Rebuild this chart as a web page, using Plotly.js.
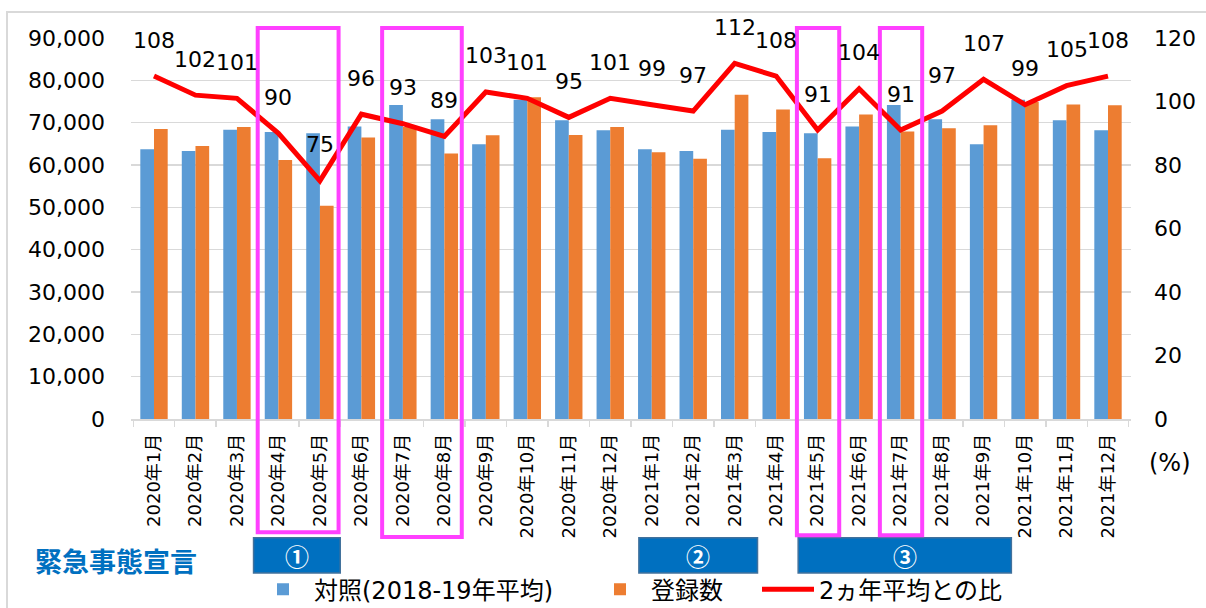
<!DOCTYPE html>
<html>
<head>
<meta charset="utf-8">
<script src="https://cdn.plot.ly/plotly-3.0.1.min.js"></script>
<style>
html,body{margin:0;padding:0;background:#fff;}
#chart{width:1206px;height:608px;}
</style>
</head>
<body>
<div id="chart"></div>
<script>
// ---- data ----
const months = [
  "2020年1月","2020年2月","2020年3月","2020年4月","2020年5月","2020年6月",
  "2020年7月","2020年8月","2020年9月","2020年10月","2020年11月","2020年12月",
  "2021年1月","2021年2月","2021年3月","2021年4月","2021年5月","2021年6月",
  "2021年7月","2021年8月","2021年9月","2021年10月","2021年11月","2021年12月"
];
// 対照(2018-19年平均)
const control = [
  63700, 63300, 68300, 67800, 67500, 69100, 74200, 70800, 64900, 75400, 70600, 68200,
  63700, 63300, 68300, 67800, 67500, 69100, 74200, 70800, 64900, 75400, 70600, 68200
];
// 登録数
const registered = [
  68500, 64500, 69000, 61200, 50400, 66500, 69000, 62700, 67000, 76000, 67100, 69000,
  63000, 61500, 76600, 73100, 61600, 71900, 67900, 68700, 69400, 74900, 74300, 74100
];
// 2ヵ年平均との比 (%)
const ratio = [
  108, 102, 101, 90, 75, 96, 93, 89, 103, 101, 95, 101,
  99, 97, 112, 108, 91, 104, 91, 97, 107, 99, 105, 108
];
const seriesNames = ["対照(2018-19年平均)", "登録数", "2ヵ年平均との比"];
const leftTicks = [0, 10000, 20000, 30000, 40000, 50000, 60000, 70000, 80000, 90000];
const rightTicks = [0, 20, 40, 60, 80, 100, 120];
// 緊急事態宣言 periods (category index span) and highlighted months
const declarations = [
  {label: "①", from: 2.4, to: 4.49},
  {label: "②", from: 11.69, to: 14.55},
  {label: "③", from: 15.53, to: 20.67}
];
const highlights = [
  {from: 2.5, to: 4.45, bottom: -0.297},
  {from: 5.5, to: 7.42, bottom: -0.31},
  {from: 15.5, to: 16.52, bottom: -0.305},
  {from: 17.5, to: 18.52, bottom: -0.305}
];

// ---- styles ----
const FONT = "DejaVu Sans, Noto Sans CJK JP, sans-serif";
const CJK = "Noto Sans CJK JP, sans-serif";
const BLUE = "#5B9BD5", ORANGE = "#ED7D31", RED = "#FF0000", GRID = "#D9D9D9";

const traces = [
  {type: "bar", name: seriesNames[0], x: months, y: control, marker: {color: BLUE}, legend: "legend"},
  {type: "bar", name: seriesNames[1], x: months, y: registered, marker: {color: ORANGE}, legend: "legend2"},
  {type: "scatter", mode: "lines", name: seriesNames[2], x: months, y: ratio, yaxis: "y2",
   line: {color: RED, width: 5}, legend: "legend3"}
];

const annotations = ratio.map((v, i) => ({
  x: months[i], y: v, xref: "x", yref: "y2", text: String(v), showarrow: false,
  xanchor: "center", yanchor: "middle",
  yshift: 36, font: {size: 22, color: "#000", family: FONT}
}));
annotations.push({
  xref: "paper", yref: "paper", x: -0.015, y: -0.372, xanchor: "center", yanchor: "middle",
  text: "<b>緊急事態宣言</b>",
  showarrow: false, font: {size: 27, color: "#0070C0", family: CJK}
});
annotations.push({
  xref: "paper", yref: "paper", x: 1.039, y: -0.1155, xanchor: "center", yanchor: "middle",
  text: "(%)",
  showarrow: false, font: {size: 24, color: "#000", family: FONT}
});
declarations.forEach(d => annotations.push({
  xref: "x", yref: "paper", x: (d.from + d.to) / 2, y: -0.358, xanchor: "center", yanchor: "middle",
  text: "<b>" + d.label + "</b>",
  showarrow: false, font: {size: 24, color: "#fff", family: CJK}
}));

const shapes = [];
shapes.push({type: "rect", xref: "paper", yref: "paper", x0: -0.124, x1: 1.1, y0: -0.55, y1: 1.068,
  line: {color: GRID, width: 2}, fillcolor: "rgba(0,0,0,0)", layer: "below"});
declarations.forEach(d => shapes.push({
  type: "rect", xref: "x", yref: "paper", x0: d.from, x1: d.to, y0: -0.404, y1: -0.312,
  fillcolor: "#0070C0", line: {color: "#41719C", width: 1.5}, layer: "above"
}));
highlights.forEach(h => shapes.push({
  type: "rect", xref: "x", yref: "paper", x0: h.from, x1: h.to, y0: h.bottom, y1: 1.026,
  line: {color: "#FF40FF", width: 4}, fillcolor: "rgba(0,0,0,0)", layer: "above"
}));

const legendBase = {orientation: "h", xanchor: "left", yref: "container", y: 0.03, yanchor: "middle",
  font: {size: 24, family: FONT}, itemwidth: 52, bgcolor: "rgba(0,0,0,0)"};

const layout = {
  width: 1206, height: 608,
  margin: {l: 131, r: 75, t: 38, b: 189, autoexpand: false},
  paper_bgcolor: "#fff", plot_bgcolor: "#fff",
  font: {family: FONT, color: "#000"},
  barmode: "group", bargap: 0.34, bargroupgap: 0,
  showlegend: true,
  legend: Object.assign({}, legendBase, {x: 0.121}),
  legend2: Object.assign({}, legendBase, {x: 0.458}),
  legend3: Object.assign({}, legendBase, {x: 0.626}),
  xaxis: {type: "category", tickangle: -90, tickfont: {size: 18, family: FONT},
    ticks: "outside", tickson: "boundaries", ticklen: 6, tickcolor: GRID, tickwidth: 1.5,
    showline: true, linecolor: GRID, linewidth: 1.5, showgrid: false, automargin: false,
    ticklabelstandoff: 6},
  yaxis: {range: [0, 90000], tickvals: leftTicks, tickformat: ",d", automargin: false,
    tickfont: {size: 22}, gridcolor: GRID, gridwidth: 1.5, zeroline: false,
    showline: false, ticklabelstandoff: 25},
  yaxis2: {range: [0, 120], tickvals: rightTicks, overlaying: "y", side: "right", automargin: false,
    tickfont: {size: 22}, showgrid: false, zeroline: false, showline: false,
    ticklabelstandoff: 22},
  annotations: annotations,
  shapes: shapes
};

Plotly.newPlot("chart", traces, layout, {displayModeBar: false, staticPlot: true});
</script>
</body>
</html>
